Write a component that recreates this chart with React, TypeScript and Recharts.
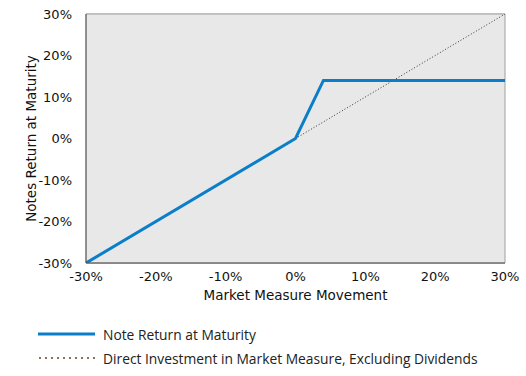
// Note return at maturity vs. direct investment in the market measure.

import { LineChart, Line, XAxis, YAxis, CartesianGrid, ReferenceArea, Label } from "recharts";

const X_TICKS = [-30, -20, -10, 0, 10, 20, 30];
const Y_TICKS = [-30, -20, -10, 0, 10, 20, 30];

// market measure movement (%) -> note return (%)
const NOTE_X = [-30, 0, 4, 30];
const NOTE_Y = [-30, 0, 14, 14];

// direct investment drawn from 0% upward only
const DIRECT_X = [0, 30];
const DIRECT_Y = [0, 30];

const noteData = NOTE_X.map((x, i) => ({ x, y: NOTE_Y[i] }));
const directData = DIRECT_X.map((x, i) => ({ x, y: DIRECT_Y[i] }));

const BLUE = "#0a7ec8";
const TICK_FONT = "'DejaVu Sans', sans-serif";
const pct = (v: number) => `${v}%`;

export default function App() {
  return (
    <div style={{ position: "absolute", left: 0, top: 0, width: 526, height: 376, background: "#fff" }}>
      <LineChart width={526} height={310} margin={{ top: 14, right: 21, bottom: 2, left: 26 }}>
        <ReferenceArea x1={-30} x2={30} y1={-30} y2={30} fill="#e8e8e8" fillOpacity={1} stroke="#a0a0a0" strokeWidth={1} ifOverflow="visible" />
        <CartesianGrid vertical={false} stroke="#b4b4b4" strokeWidth={1} />
        <XAxis
          type="number"
          dataKey="x"
          domain={[-30, 30]}
          ticks={X_TICKS}
          tickFormatter={pct}
          tick={{ fontSize: 13, fontFamily: TICK_FONT, fill: "#111" }}
          tickLine={false}
          axisLine={{ stroke: "#555" }}
          tickMargin={3}
          height={45}
          allowDataOverflow
        >
          <Label
            value="Market Measure Movement"
            position="insideBottom"
            offset={8}
            style={{ fontSize: 13.5, fontFamily: TICK_FONT, fill: "#111" }}
          />
        </XAxis>
        <YAxis
          type="number"
          dataKey="y"
          domain={[-30, 30]}
          ticks={Y_TICKS}
          tickFormatter={pct}
          tick={{ fontSize: 13, fontFamily: TICK_FONT, fill: "#111" }}
          tickLine={false}
          axisLine={{ stroke: "#555" }}
          tickMargin={8}
          width={60}
          allowDataOverflow
        >
          <Label
            content={({ viewBox }: any) => {
              const cx = viewBox.x + 5;
              const cy = viewBox.y + viewBox.height / 2;
              return (
                <text
                  x={cx}
                  y={cy}
                  transform={`rotate(-90 ${cx} ${cy})`}
                  textAnchor="middle"
                  dominantBaseline="central"
                  style={{ fontSize: 13.5, fontFamily: TICK_FONT, fill: "#111" }}
                >
                  Notes Return at Maturity
                </text>
              );
            }}
          />
        </YAxis>
        <Line
          data={directData}
          dataKey="y"
          type="linear"
          stroke="#333"
          strokeWidth={1}
          strokeDasharray="1 2"
          dot={false}
          isAnimationActive={false}
        />
        <Line
          data={noteData}
          dataKey="y"
          type="linear"
          stroke={BLUE}
          strokeWidth={3}
          dot={false}
          isAnimationActive={false}
        />
      </LineChart>
      <div style={{ position: "absolute", left: 38, top: 324, fontFamily: "'Open Sans', sans-serif", fontSize: 13.8, color: "#222" }}>
        <div style={{ display: "flex", alignItems: "center", height: 20 }}>
          <svg width={58} height={6}><line x1={0} y1={3} x2={57} y2={3} stroke={BLUE} strokeWidth={3} /></svg>
          <span style={{ marginLeft: 7 }}>Note Return at Maturity</span>
        </div>
        <div style={{ display: "flex", alignItems: "center", height: 20, marginTop: 4 }}>
          <svg width={58} height={6}><line x1={1} y1={3} x2={57} y2={3} stroke="#8a6f62" strokeWidth={2} strokeDasharray="2 4" /></svg>
          <span style={{ marginLeft: 7 }}>Direct Investment in Market Measure, Excluding Dividends</span>
        </div>
      </div>
    </div>
  );
}
